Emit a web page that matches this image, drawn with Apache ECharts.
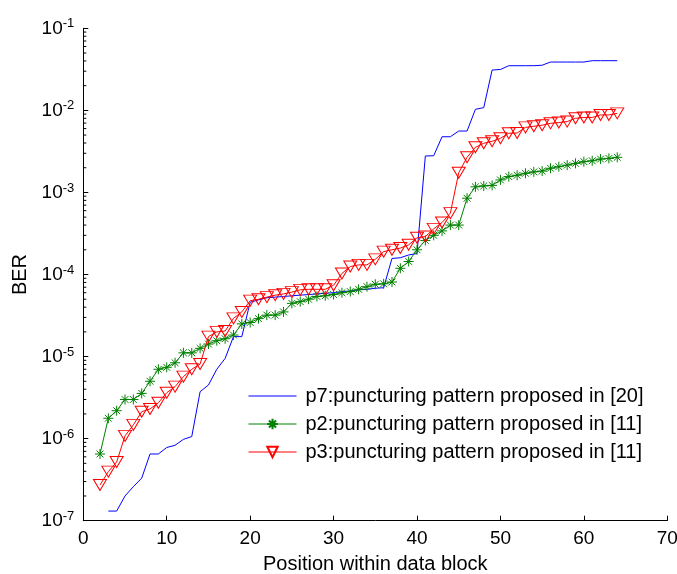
<!DOCTYPE html>
<html>
<head>
<meta charset="utf-8">
<style>
html,body{margin:0;padding:0;background:#fff;}
#chart{width:677px;height:574px;}
</style>
<script src="https://cdn.jsdelivr.net/npm/echarts@6/dist/echarts.min.js"></script>
</head>
<body>
<div id="chart"></div>
<script>
// ---- data ----
var positionsP7 = [3,4,5,6,7,8,9,10,11,12,13,14,15,16,17,18,19,20,21,22,23,24,25,26,27,28,29,30,31,32,33,34,35,36,37,38,39,40,41,42,43,44,45,46,47,48,49,50,51,52,53,54,55,56,57,58,59,60,61,62,63,64];
var berP7 = [1.31e-7,1.31e-7,2.0e-7,2.6e-7,3.3e-7,6.5e-7,6.5e-7,7.8e-7,8.3e-7,9.8e-7,1.06e-6,3.73e-6,4.5e-6,7.0e-6,9.5e-6,1.75e-5,1.75e-5,4.6e-5,4.9e-5,5.2e-5,5.3e-5,5.4e-5,5.5e-5,5.6e-5,5.7e-5,5.8e-5,5.9e-5,6.0e-5,6.2e-5,6.3e-5,6.5e-5,6.6e-5,6.8e-5,6.9e-5,1.57e-4,1.6e-4,1.73e-4,1.8e-4,2.78e-3,2.8e-3,4.77e-3,4.77e-3,5.6e-3,5.6e-3,1.03e-2,1.08e-2,3.1e-2,3.15e-2,3.5e-2,3.5e-2,3.5e-2,3.5e-2,3.55e-2,3.88e-2,3.88e-2,3.88e-2,3.88e-2,3.88e-2,4.03e-2,4.03e-2,4.03e-2,4.03e-2];

var positions = [2,3,4,5,6,7,8,9,10,11,12,13,14,15,16,17,18,19,20,21,22,23,24,25,26,27,28,29,30,31,32,33,34,35,36,37,38,39,40,41,42,43,44,45,46,47,48,49,50,51,52,53,54,55,56,57,58,59,60,61,62,63,64];
var berP2 = [6.5e-7,1.77e-6,2.19e-6,3.0e-6,3.0e-6,3.56e-6,5.0e-6,7.0e-6,7.4e-6,8.4e-6,1.11e-5,1.11e-5,1.26e-5,1.42e-5,1.56e-5,1.65e-5,1.83e-5,2.5e-5,2.6e-5,2.9e-5,3.2e-5,3.2e-5,3.5e-5,4.45e-5,4.67e-5,5.0e-5,5.4e-5,5.5e-5,5.7e-5,6.0e-5,6.2e-5,6.6e-5,7.1e-5,7.6e-5,7.7e-5,8.1e-5,1.19e-4,1.44e-4,2.0e-4,2.6e-4,3.0e-4,3.4e-4,4.0e-4,4.0e-4,8.5e-4,1.17e-3,1.2e-3,1.22e-3,1.42e-3,1.56e-3,1.62e-3,1.71e-3,1.78e-3,1.82e-3,1.97e-3,2.06e-3,2.15e-3,2.26e-3,2.37e-3,2.43e-3,2.55e-3,2.6e-3,2.68e-3];
var berP3 = [2.72e-7,3.96e-7,5.2e-7,1.08e-6,1.47e-6,2.13e-6,2.3e-6,2.74e-6,3.63e-6,4.3e-6,5.7e-6,7.0e-6,8.1e-6,1.75e-5,2.0e-5,2.05e-5,2.92e-5,3.5e-5,4.8e-5,5.0e-5,5.3e-5,5.6e-5,5.8e-5,6.1e-5,6.5e-5,6.6e-5,6.6e-5,6.6e-5,7.4e-5,1.03e-4,1.25e-4,1.31e-4,1.31e-4,1.53e-4,1.9e-4,2.0e-4,2.1e-4,2.3e-4,2.8e-4,2.9e-4,3.6e-4,4.3e-4,5.6e-4,1.74e-3,2.68e-3,3.55e-3,3.97e-3,4.2e-3,4.57e-3,5.26e-3,5.3e-3,6.2e-3,6.4e-3,6.6e-3,6.95e-3,7.1e-3,7.3e-3,8.0e-3,8.2e-3,8.2e-3,8.8e-3,8.8e-3,9.2e-3];

var seriesNames = ['p7:puncturing pattern proposed in [20]','p2:puncturing pattern proposed in [11]','p3:puncturing pattern proposed in [11]'];
var xTickValues = [0,10,20,30,40,50,60,70];
var yMinorTicks = [2e-7,3e-7,4e-7,5e-7,6e-7,7e-7,8e-7,9e-7,2e-6,3e-6,4e-6,5e-6,6e-6,7e-6,8e-6,9e-6,2e-5,3e-5,4e-5,5e-5,6e-5,7e-5,8e-5,9e-5,2e-4,3e-4,4e-4,5e-4,6e-4,7e-4,8e-4,9e-4,2e-3,3e-3,4e-3,5e-3,6e-3,7e-3,8e-3,9e-3,2e-2,3e-2,4e-2,5e-2,6e-2,7e-2,8e-2,9e-2];
var xTitle = 'Position within data block';
var yTitle = 'BER';

function pairs(xs, ys){ return xs.map(function(x,i){ return [x, ys[i]]; }); }

var FONT = '"Liberation Sans", Arial, sans-serif';
var asterisk = 'path://M5,0L5,10M0,5L10,5M1.6,1.6L8.4,8.4M1.6,8.4L8.4,1.6';

var chart = echarts.init(document.getElementById('chart'), null, {renderer:'canvas'});
chart.setOption({
  animation:false,
  backgroundColor:'#fff',
  grid:{left:83.3, right:9.7, top:28.3, bottom:53.3, containLabel:false, outerBoundsMode:'none'},
  xAxis:{
    type:'value', min:0, max:70, interval:10,
    name:xTitle, nameLocation:'middle', nameGap:34,
    nameTextStyle:{fontFamily:FONT, fontSize:20, color:'#000'},
    axisLine:{show:true, onZero:false, lineStyle:{color:'#000', width:1}},
    axisTick:{show:true, inside:true, length:5, lineStyle:{color:'#000'}},
    axisLabel:{fontFamily:FONT, fontSize:19, color:'#000', margin:9},
    splitLine:{show:false}
  },
  yAxis:{
    type:'log', logBase:10, min:1e-7, max:1e-1, interval:1,
    name:yTitle, nameLocation:'middle', nameGap:52, nameRotate:90,
    nameTextStyle:{fontFamily:FONT, fontSize:20, color:'#000'},
    axisLine:{show:true, onZero:false, lineStyle:{color:'#000', width:1}},
    axisTick:{show:true, inside:true, length:5, lineStyle:{color:'#000'}},
    axisLabel:{
      margin:9,
      formatter:function(v){ var e=Math.round(Math.log10(v)); return '{b|10}{s|'+e+'}'; },
      rich:{
        b:{fontFamily:FONT, fontSize:19, color:'#000', lineHeight:22},
        s:{fontFamily:FONT, fontSize:13, color:'#000', verticalAlign:'top', lineHeight:22, padding:[0,0,12,0]}
      }
    },
    splitLine:{show:false},
    minorTick:{show:false}
  },
  legend:{
    show:true, orient:'vertical', left:243, top:381,
    itemWidth:48, itemHeight:13, itemGap:8,
    data:seriesNames,
    lineStyle:{width:1},
    textStyle:{fontFamily:FONT, fontSize:20, color:'#000', lineHeight:20, padding:[0,0,0,4]},
    backgroundColor:'rgba(0,0,0,0)', borderWidth:0
  },
  series:[
    {
      name:seriesNames[0], type:'line', data:pairs(positionsP7, berP7),
      showSymbol:false, symbol:'circle', symbolSize:1,
      lineStyle:{color:'#0000ff', width:1},
      itemStyle:{color:'rgba(0,0,0,0)', borderWidth:0}, z:3
    },
    {
      name:seriesNames[1], type:'line', data:pairs(positions, berP2),
      symbol:asterisk, symbolSize:10,
      lineStyle:{color:'#008000', width:1},
      itemStyle:{color:'rgba(0,0,0,0)', borderColor:'#008000', borderWidth:1}, z:4
    },
    {
      name:seriesNames[2], type:'line', data:pairs(positions, berP3),
      symbol:'triangle', symbolRotate:180, symbolSize:[13,11],
      lineStyle:{color:'#ff0000', width:1},
      itemStyle:{color:'rgba(0,0,0,0)', borderColor:'#ff0000', borderWidth:1}, z:5
    },
    {
      name:'minorTicks', type:'custom', silent:true, clip:false, z:10,
      data:yMinorTicks.map(function(v){ return [0, v]; }),
      renderItem:function(params, api){
        var p = api.coord([0, api.value(1)]);
        return {type:'line', shape:{x1:p[0], y1:p[1], x2:p[0]+3, y2:p[1]}, style:{stroke:'#000', lineWidth:1}};
      }
    }
  ]
});
</script>
</body>
</html>
